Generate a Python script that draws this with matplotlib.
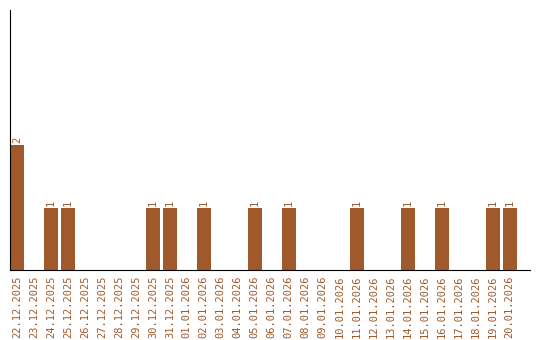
import matplotlib
matplotlib.use("Agg")
import matplotlib.pyplot as plt

dates = ["22.12.2025", "23.12.2025", "24.12.2025", "25.12.2025", "26.12.2025",
         "27.12.2025", "28.12.2025", "29.12.2025", "30.12.2025", "31.12.2025",
         "01.01.2026", "02.01.2026", "03.01.2026", "04.01.2026", "05.01.2026",
         "06.01.2026", "07.01.2026", "08.01.2026", "09.01.2026", "10.01.2026",
         "11.01.2026", "12.01.2026", "13.01.2026", "14.01.2026", "15.01.2026",
         "16.01.2026", "17.01.2026", "18.01.2026", "19.01.2026", "20.01.2026"]
counts = [2, 0, 1, 1, 0, 0, 0, 0, 1, 1,
          0, 1, 0, 0, 1, 0, 1, 0, 0, 0,
          1, 0, 0, 1, 0, 1, 0, 0, 1, 1]

color = "#A0592B"
plt.rcParams["font.family"] = ["DejaVu Sans Mono"]

fig = plt.figure(figsize=(5.4, 3.4), dpi=100)
ax = fig.add_axes([10 / 540, 70 / 340, 520 / 540, 260 / 340])

x = list(range(len(dates)))
ax.bar(x, counts, width=0.82, color=color)
for xi, c in zip(x, counts):
    if c > 0:
        ax.text(xi, c + 0.03, str(c), rotation=90, ha="center", va="bottom",
                fontsize=7.5, color=color)

ax.set_xlim(-0.41, 30.2)
ax.set_ylim(0, 4.16)
ax.set_xticks(x)
ax.set_xticklabels(dates, rotation=90, fontsize=7.5, color=color)
ax.tick_params(axis="x", length=0, pad=4)
ax.set_yticks([])
ax.spines["top"].set_visible(False)
ax.spines["right"].set_visible(False)

fig.savefig("out.png", dpi=100)
